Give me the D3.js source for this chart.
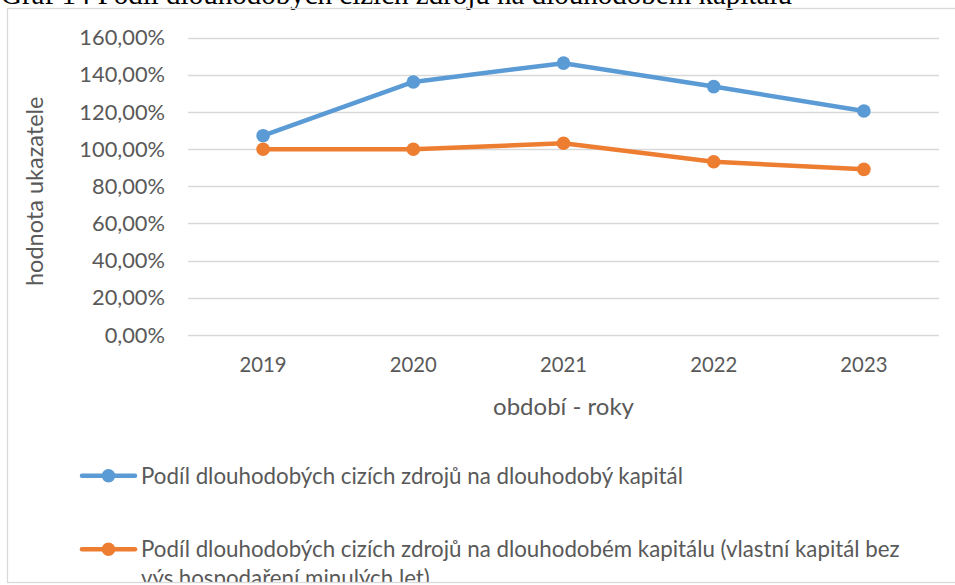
<!DOCTYPE html>
<html>
<head>
<meta charset="utf-8">
<script src="https://cdn.jsdelivr.net/npm/d3@7"></script>
<style>
  body { margin: 0; background: #fff; }
  svg { display: block; }
</style>
</head>
<body>
<div id="chart"></div>
<script>
// values
var years = ["2019", "2020", "2021", "2022", "2023"];
var podilDlouhodobyKapital = [1.072, 1.361, 1.462, 1.336, 1.205];
var podilBezVysledku = [0.999, 0.999, 1.031, 0.932, 0.891];
var yTicks = [0, 0.2, 0.4, 0.6, 0.8, 1.0, 1.2, 1.4, 1.6];
var seriesNames = [
  ["Podíl dlouhodobých cizích zdrojů na dlouhodobý kapitál"],
  ["Podíl dlouhodobých cizích zdrojů na dlouhodobém kapitálu (vlastní kapitál bez",
   "výs.hospodaření minulých let)"]
];
var colors = ["#5B9BD5", "#ED7D31"];

var width = 955, height = 585;
var font = "Lato, 'Open Sans', sans-serif";
var textColor = "#595959";

var svg = d3.select("#chart").append("svg")
  .attr("width", width)
  .attr("height", height);

// title of the figure, mostly cut off at the top of the picture
svg.append("text")
  .attr("x", 1)
  .attr("y", 3.5)
  .style("font-family", "'Liberation Serif', 'Times New Roman', serif")
  .style("font-size", "29px")
  .attr("fill", "#000")
  .text("Graf 14 Podíl dlouhodobých cizích zdrojů na dlouhodobém kapitálu");

// chart area, everything inside is clipped by its border
svg.append("clipPath").attr("id", "area")
  .append("rect").attr("x", 7).attr("y", 8).attr("width", 960).attr("height", 574);

var area = svg.append("g").attr("clip-path", "url(#area)");

var x = d3.scaleBand()
  .domain(years)
  .range([188, 939]);

var y = d3.scaleLinear()
  .domain([0, 1.6])
  .range([335, 37.5]);

var locale = d3.formatLocale({ decimal: ",", thousands: " ", grouping: [3], currency: ["", " Kč"] });
var pct = locale.format(".2%");

// gridlines
area.selectAll("line.grid")
  .data(yTicks)
  .enter().append("line")
  .attr("class", "grid")
  .attr("x1", x.range()[0])
  .attr("x2", x.range()[1])
  .attr("y1", function(d) { return Math.round(y(d)) + 0.5; })
  .attr("y2", function(d) { return Math.round(y(d)) + 0.5; })
  .attr("stroke", "#D9D9D9")
  .attr("stroke-width", 1.3);

// y tick labels
area.selectAll("text.ytick")
  .data(yTicks)
  .enter().append("text")
  .attr("class", "ytick")
  .attr("x", 165)
  .attr("y", function(d) { return y(d); })
  .attr("dy", "0.35em")
  .attr("text-anchor", "end")
  .style("font-family", font)
  .style("font-size", "21.8px")
  .attr("fill", textColor)
  .text(function(d) { return pct(d); });

// x tick labels
area.selectAll("text.xtick")
  .data(years)
  .enter().append("text")
  .attr("class", "xtick")
  .attr("x", function(d) { return x(d) + x.bandwidth() / 2; })
  .attr("y", 365)
  .attr("dy", "0.35em")
  .attr("text-anchor", "middle")
  .style("font-family", font)
  .style("font-size", "20.3px")
  .attr("fill", textColor)
  .text(function(d) { return d; });

// axis titles
area.append("text")
  .attr("x", (x.range()[0] + x.range()[1]) / 2)
  .attr("y", 407)
  .attr("dy", "0.35em")
  .attr("text-anchor", "middle")
  .style("font-family", font)
  .style("font-size", "24px")
  .attr("fill", textColor)
  .text("období - roky");

area.append("text")
  .attr("transform", "translate(35," + ((y.range()[0] + y.range()[1]) / 2 + 5) + ") rotate(-90)")
  .attr("dy", "0.35em")
  .attr("text-anchor", "middle")
  .style("font-family", font)
  .style("font-size", "23.5px")
  .attr("fill", textColor)
  .text("hodnota ukazatele");

// series
var series = [podilDlouhodobyKapital, podilBezVysledku];
var line = d3.line()
  .x(function(d, i) { return x(years[i]) + x.bandwidth() / 2; })
  .y(function(d) { return y(d); });

series.forEach(function(values, s) {
  area.append("path")
    .datum(values)
    .attr("d", line)
    .attr("fill", "none")
    .attr("stroke", colors[s])
    .attr("stroke-width", 4.5)
    .attr("stroke-linejoin", "round")
    .attr("stroke-linecap", "round");

  area.selectAll("circle.s" + s)
    .data(values)
    .enter().append("circle")
    .attr("class", "s" + s)
    .attr("cx", function(d, i) { return x(years[i]) + x.bandwidth() / 2; })
    .attr("cy", function(d) { return y(d); })
    .attr("r", 6.8)
    .attr("fill", colors[s]);
});

// legend
var legendY = [475.7, 549.3];
var legend = area.selectAll("g.legend")
  .data(seriesNames)
  .enter().append("g")
  .attr("class", "legend")
  .attr("transform", function(d, i) { return "translate(0," + legendY[i] + ")"; });

legend.append("line")
  .attr("x1", 82).attr("x2", 135)
  .attr("stroke", function(d, i) { return colors[i]; })
  .attr("stroke-width", 4.5)
  .attr("stroke-linecap", "round");

legend.append("circle")
  .attr("cx", 108.5)
  .attr("r", 6.8)
  .attr("fill", function(d, i) { return colors[i]; });

legend.append("text")
  .attr("x", 141)
  .style("font-family", font)
  .style("font-size", "22.3px")
  .attr("fill", textColor)
  .selectAll("tspan")
  .data(function(d) { return d; })
  .enter().append("tspan")
  .attr("x", 141)
  .attr("y", function(d, i) { return i * 29; })
  .attr("dy", "0.35em")
  .text(function(d) { return d; });

// border of the chart area
svg.append("rect")
  .attr("x", 7.5)
  .attr("y", 8.5)
  .attr("width", 960)
  .attr("height", 574)
  .attr("fill", "none")
  .attr("stroke", "#D9D9D9")
  .attr("stroke-width", 1.3);
</script>
</body>
</html>
